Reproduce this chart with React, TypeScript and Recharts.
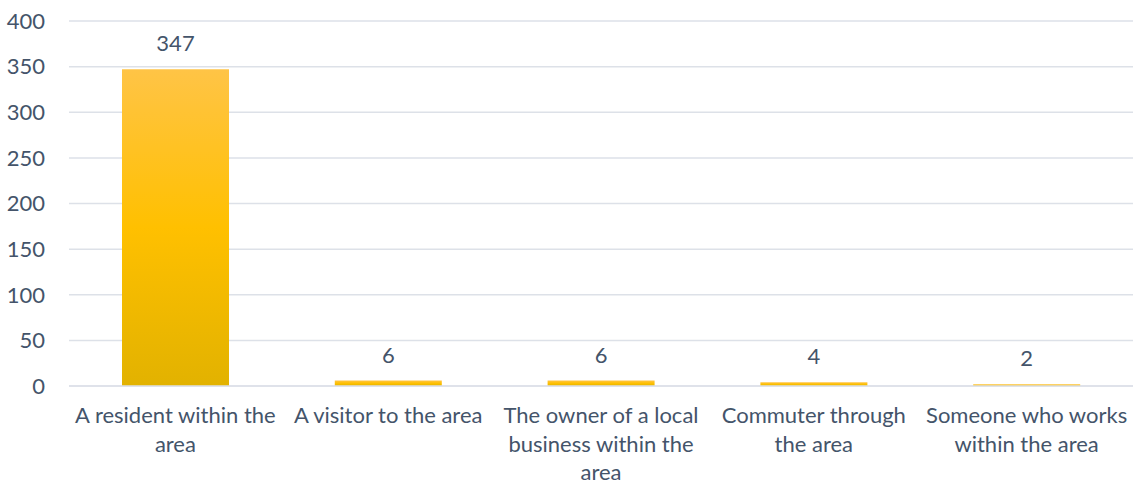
import { BarChart, Bar, XAxis, YAxis, CartesianGrid, LabelList } from "recharts";

const categories = [
  "A resident within the area",
  "A visitor to the area",
  "The owner of a local business within the area",
  "Commuter through the area",
  "Someone who works within the area",
];
const counts = [347, 6, 6, 4, 2];
const tickLines = [
  ["A resident within the", "area"],
  ["A visitor to the area"],
  ["The owner of a local", "business within the", "area"],
  ["Commuter through", "the area"],
  ["Someone who works", "within the area"],
];
const yTicks = [0, 50, 100, 150, 200, 250, 300, 350, 400];

const data = categories.map((name, i) => ({ name, count: counts[i] }));

const textColor = "#44546A";
const font = "Lato, 'Open Sans', sans-serif";

const CategoryTick = (props: any) => {
  const { x, y, index } = props;
  const lines = tickLines[index] || [];
  return (
    <text
      x={x}
      y={y}
      textAnchor='middle'
      fill={textColor}
      fontSize={22}
      fontFamily={font}
    >
      {lines.map((l, i) => (
        <tspan key={i} x={x} dy={i === 0 ? 29 : 28.5}>
          {l}
        </tspan>
      ))}
    </text>
  );
};

export default function App() {
  return (
    <div style={{ position: "absolute", left: 0, top: 0, background: "#fff" }}>
      <BarChart
        width={1134}
        height={485}
        data={data}
        margin={{ top: 21, right: 1, bottom: 0, left: 0 }}
      >
        <defs>
          <linearGradient id='barFill' x1='0' y1='0' x2='0' y2='1'>
            <stop offset='0%' stopColor='#FFC446' />
            <stop offset='50%' stopColor='#FFC000' />
            <stop offset='100%' stopColor='#E2B200' />
          </linearGradient>
        </defs>
        <CartesianGrid vertical={false} stroke='#DDE1E8' strokeWidth={1.5} />
        <XAxis
          dataKey='name'
          axisLine={{ stroke: "#DDE1E8", strokeWidth: 1.5 }}
          tickLine={false}
          height={99}
          interval={0}
          tick={<CategoryTick />}
        />
        <YAxis
          width={69}
          domain={[0, 400]}
          ticks={yTicks}
          axisLine={false}
          tickLine={false}
          tickMargin={18}
          tick={{ fill: textColor, fontSize: 22, fontFamily: font }}
        />
        <Bar dataKey='count' fill='url(#barFill)' barSize={107} isAnimationActive={false}>
          <LabelList
            dataKey='count'
            position='top'
            offset={18}
            fill={textColor}
            fontSize={22}
            fontFamily={font}
          />
        </Bar>
      </BarChart>
    </div>
  );
}
